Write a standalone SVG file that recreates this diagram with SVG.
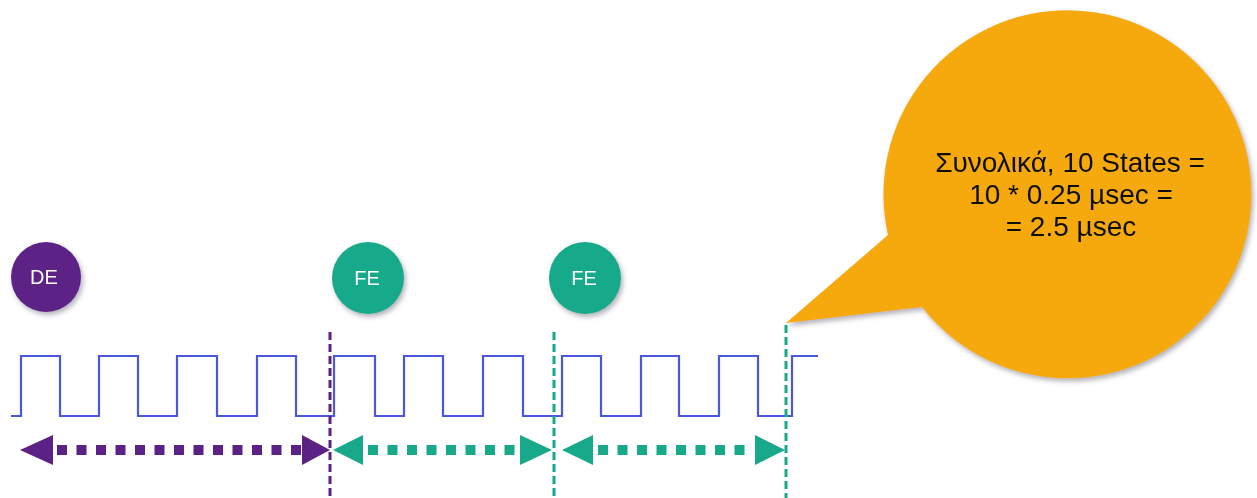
<svg xmlns="http://www.w3.org/2000/svg" width="1257" height="498" viewBox="0 0 1257 498">
  <style>
    .label { font-family: "Liberation Sans", Arial, sans-serif; fill: #ffffff; font-size: 20px; text-anchor: middle; }
    .note { font-family: "Liberation Sans", Arial, sans-serif; fill: #111111; font-size: 28px; text-anchor: middle; }
    .purple { fill: #5b2185; }
    .green { fill: #17a98a; }
    .wave { fill: none; stroke: #4b58dc; stroke-width: 2.2; }
    .vdash { fill: none; stroke-width: 3; stroke-dasharray: 8 4; }
    .dots { fill: none; stroke-width: 10; stroke-dasharray: 10 9.5; }
  </style>
  <defs>
    <filter id="soft" x="-20%" y="-20%" width="140%" height="140%">
      <feDropShadow dx="2" dy="3" stdDeviation="2.5" flood-color="#555566" flood-opacity="0.45"/>
    </filter>
  </defs>

  <rect width="1257" height="498" fill="#ffffff"/>

  <!-- clock waveform -->
  <path class="wave" d="M11 416 H21 V356 H60 V416 H99 V356 H138 V416 H177 V356 H217 V416 H257 V356 H296 V416 H334 V356 H375 V416 H404 V356 H443 V416 H483 V356 H523 V416 H562 V356 H601 V416 H641 V356 H679 V416 H719 V356 H758 V416 H792 V356 H818"/>

  <!-- speech bubble with total time -->
  <g id="bubble" filter="url(#soft)">
    <path fill="#f5a90b" d="M786 323 L888 235 A184 184 0 1 1 922 307 Z"/>
    <text class="note" x="1070" y="172">Συνολικά, 10 States =</text>
    <text class="note" x="1071" y="204">10 * 0.25 µsec =</text>
    <text class="note" x="1071" y="236">= 2.5 µsec</text>
  </g>

  <!-- stage markers -->
  <g id="node-de" filter="url(#soft)">
    <circle class="purple" cx="46" cy="277" r="35"/>
    <text class="label" x="44" y="284">DE</text>
  </g>
  <g id="node-fe1" filter="url(#soft)">
    <circle class="green" cx="368" cy="278" r="36"/>
    <text class="label" x="367" y="285">FE</text>
  </g>
  <g id="node-fe2" filter="url(#soft)">
    <circle class="green" cx="585" cy="278" r="36"/>
    <text class="label" x="584" y="285">FE</text>
  </g>

  <!-- boundaries and duration arrows -->
  <g id="connectors">
    <line class="vdash" x1="330" y1="332" x2="330" y2="498" stroke="#5b2185"/>
    <line class="vdash" x1="554" y1="332" x2="554" y2="498" stroke="#17a98a"/>
    <line class="vdash" x1="786" y1="325" x2="786" y2="498" stroke="#17a98a"/>

    <!-- DE span -->
    <line class="dots" x1="57" y1="450" x2="301" y2="450" stroke="#5b2185"/>
    <polygon class="purple" points="20,450 53,435 53,465"/>
    <polygon class="purple" points="330,450 302,435 302,465"/>

    <!-- first FE span -->
    <line class="dots" x1="368" y1="450" x2="518" y2="450" stroke="#17a98a"/>
    <polygon class="green" points="333,450 363,435 363,465"/>
    <polygon class="green" points="552,450 520,435 520,465"/>

    <!-- second FE span -->
    <line class="dots" x1="598" y1="450" x2="752" y2="450" stroke="#17a98a"/>
    <polygon class="green" points="562,450 593,435 593,465"/>
    <polygon class="green" points="785,450 755,435 755,465"/>
  </g>
</svg>
